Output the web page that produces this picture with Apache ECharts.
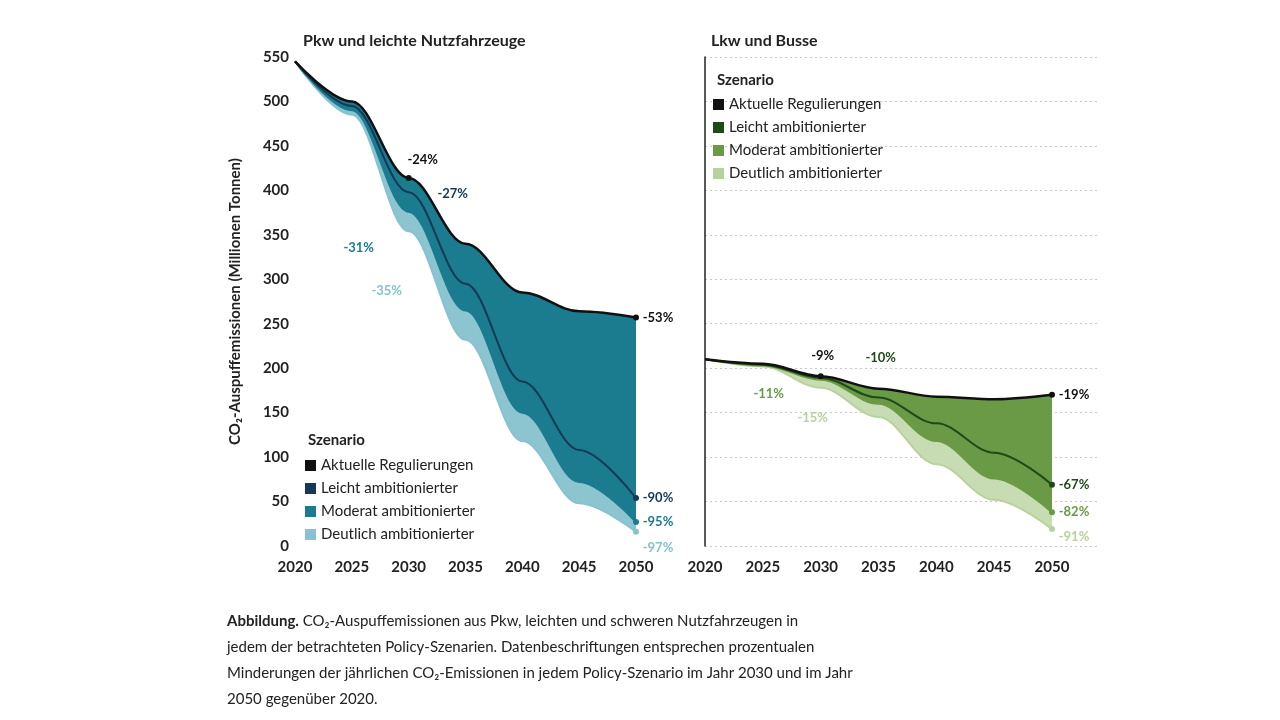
<!DOCTYPE html>
<html><head><meta charset="utf-8">
<script src="https://cdn.jsdelivr.net/npm/echarts@6/dist/echarts.min.js"></script>
<style>html,body{margin:0;background:#fff}#c{width:1280px;height:720px}</style>
</head><body><div id="c"></div>
<script>
const years = ['2020', '2025', '2030', '2035', '2040', '2045', '2050'];
// Pkw und leichte Nutzfahrzeuge
const pkwAktuell = [545, 500, 414, 340, 285, 264, 257];
const pkwLeicht = [545, 495, 398, 295, 185, 108, 54];
const pkwModerat = [545, 490, 376, 265, 150, 72, 27];
const pkwDeutlich = [545, 485, 354, 232, 118, 48, 16];
// Lkw und Busse
const lkwAktuell = [210, 205, 191, 177, 168, 165, 170];
const lkwLeicht = [210, 204, 189, 167, 138, 105, 69];
const lkwModerat = [210, 203, 187, 160, 118, 76, 38];
const lkwDeutlich = [210, 202, 178, 145, 92, 52, 19];
const labels2030 = { pkw: ['-24%', '-27%', '-31%', '-35%'], lkw: ['-9%', '-10%', '-11%', '-15%'] };
const labels2050 = { pkw: ['-53%', '-90%', '-95%', '-97%'], lkw: ['-19%', '-67%', '-82%', '-91%'] };
const names = ['Aktuelle Regulierungen', 'Leicht ambitionierter', 'Moderat ambitionierter', 'Deutlich ambitionierter'];

const F = 'Lato, "Open Sans", sans-serif';
const pkwColors = ['#111111', '#133a55', '#1b7b8f', '#86c2cf'];
const lkwColors = ['#111111', '#1e4a18', '#6a9a45', '#b8d29e'];
const pkwFill = ['#1b7b8f', '#8cc4d0'];
const lkwFill = ['#6a9a45', '#c8dcb3'];

const off30 = {
  pkw: [[14, -18], [44, 2], [-50, 36], [-22, 60]],
  lkw: [[2, -20], [60, -20], [-52, 14], [-8, 30]]
};
const off50 = {
  pkw: [[22, 0], [22, 0], [22, 0], [22, 16]],
  lkw: [[22, 0], [22, 0], [22, 0], [22, 8]]
};

function diff(a, b) { return a.map((v, i) => v - b[i]); }

function panel(idx, key, sets, colors, fills) {
  const out = [];
  const base = { type: 'line', xAxisIndex: idx, yAxisIndex: idx, smooth: 0.35, smoothMonotone: 'x', symbol: 'none', stack: key, silent: true, lineStyle: { width: 0 } };
  out.push(Object.assign({}, base, { data: sets[3].slice() }));
  out.push(Object.assign({}, base, { data: diff(sets[2], sets[3]), areaStyle: { color: fills[1], opacity: 1 } }));
  out.push(Object.assign({}, base, { data: diff(sets[0], sets[2]), areaStyle: { color: fills[0], opacity: 1 } }));
  for (let k = 3; k >= 0; k--) {
    const d = years.map((y, i) => {
      const item = { value: sets[k][i] };
      if (y === '2030' || y === '2050') {
        const is30 = y === '2030';
        item.symbol = 'circle'; item.symbolSize = (is30 && k > 0) ? 0 : 6;
        item.label = {
          show: true, position: 'inside',
          formatter: is30 ? labels2030[key][k] : labels2050[key][k],
          offset: is30 ? off30[key][k] : off50[key][k],
          color: k === 0 ? '#111' : colors[k], fontFamily: F, fontWeight: 'bold', fontSize: 13
        };
      }
      return item;
    });
    out.push({
      type: 'line', name: names[k], xAxisIndex: idx, yAxisIndex: idx, smooth: 0.35, smoothMonotone: 'x', symbol: 'none',
      lineStyle: { color: colors[k], width: k === 0 ? 2.5 : 2 }, itemStyle: { color: colors[k] }, data: d, z: 5
    });
  }
  return out;
}

const axisLab = { color: '#222', fontFamily: F, fontWeight: 'bold', fontSize: 15 };
function legend(left, top, colors) {
  return {
    orient: 'vertical', left: left, top: top, itemWidth: 11, itemHeight: 11, itemGap: 8, icon: 'rect',
    selectedMode: false, textStyle: { color: '#222', fontFamily: F, fontSize: 15 },
    data: names.map((n, i) => ({ name: n, itemStyle: { color: colors[i] } }))
  };
}

const chart = echarts.init(document.getElementById('c'));
chart.setOption({
  animation: false,
  grid: [
    { left: 295, top: 57, width: 341, height: 489 },
    { left: 705, top: 57, width: 347, height: 489 },
    { left: 705, top: 57, width: 393, height: 489 }
  ],
  xAxis: [0, 1, 2].map(i => ({
    type: i === 2 ? 'value' : 'category', data: i === 2 ? undefined : years, boundaryGap: false,
    gridIndex: i, min: i === 2 ? 0 : undefined, max: i === 2 ? 1 : undefined, show: i !== 2,
    axisLine: { show: false }, axisTick: { show: false }, splitLine: { show: false },
    axisLabel: Object.assign({ margin: 14 }, axisLab)
  })),
  yAxis: [0, 1, 2].map(i => ({
    type: 'value', gridIndex: i, min: 0, max: 550, interval: 50,
    axisLine: { show: i === 1, lineStyle: { color: '#222', width: 1.5 } }, axisTick: { show: false },
    axisLabel: Object.assign({ show: i === 0, margin: 6 }, axisLab),
    splitLine: { show: i === 2, lineStyle: { color: '#c8c8c8', type: [2, 3] } },
    name: i === 0 ? 'CO₂-Auspuffemissionen (Millionen Tonnen)' : '', nameLocation: 'middle', nameGap: 52,
    nameTextStyle: { color: '#222', fontFamily: F, fontWeight: 'bold', fontSize: 15 }
  })),
  legend: [legend(300, 453, pkwColors), legend(708, 92, lkwColors)],
  title: [
    { text: 'Pkw und leichte Nutzfahrzeuge', left: 298, top: 28, textStyle: { fontFamily: F, fontSize: 16, fontWeight: 'bold', color: '#222' } },
    { text: 'Lkw und Busse', left: 706, top: 28, textStyle: { fontFamily: F, fontSize: 16, fontWeight: 'bold', color: '#222' } },
    { text: 'Szenario', left: 303, top: 428, textStyle: { fontFamily: F, fontSize: 15, fontWeight: 'bold', color: '#222' } },
    { text: 'Szenario', left: 712, top: 68, textStyle: { fontFamily: F, fontSize: 15, fontWeight: 'bold', color: '#222' } },
    {
      text: '{b|Abbildung.} CO₂-Auspuffemissionen aus Pkw, leichten und schweren Nutzfahrzeugen in\njedem der betrachteten Policy-Szenarien. Datenbeschriftungen entsprechen prozentualen\nMinderungen der jährlichen CO₂-Emissionen in jedem Policy-Szenario im Jahr 2030 und im Jahr\n2050 gegenüber 2020.',
      left: 222, top: 603,
      textStyle: { fontFamily: F, fontSize: 15, fontWeight: 'normal', color: '#222', lineHeight: 26,
        rich: { b: { fontFamily: F, fontSize: 15, fontWeight: 'bold', color: '#222' } } }
    }
  ],
  series: [].concat(
    panel(0, 'pkw', [pkwAktuell, pkwLeicht, pkwModerat, pkwDeutlich], pkwColors, pkwFill),
    panel(1, 'lkw', [lkwAktuell, lkwLeicht, lkwModerat, lkwDeutlich], lkwColors, lkwFill),
    [{ type: 'line', xAxisIndex: 2, yAxisIndex: 2, data: [], silent: true }]
  )
});
</script></body></html>
